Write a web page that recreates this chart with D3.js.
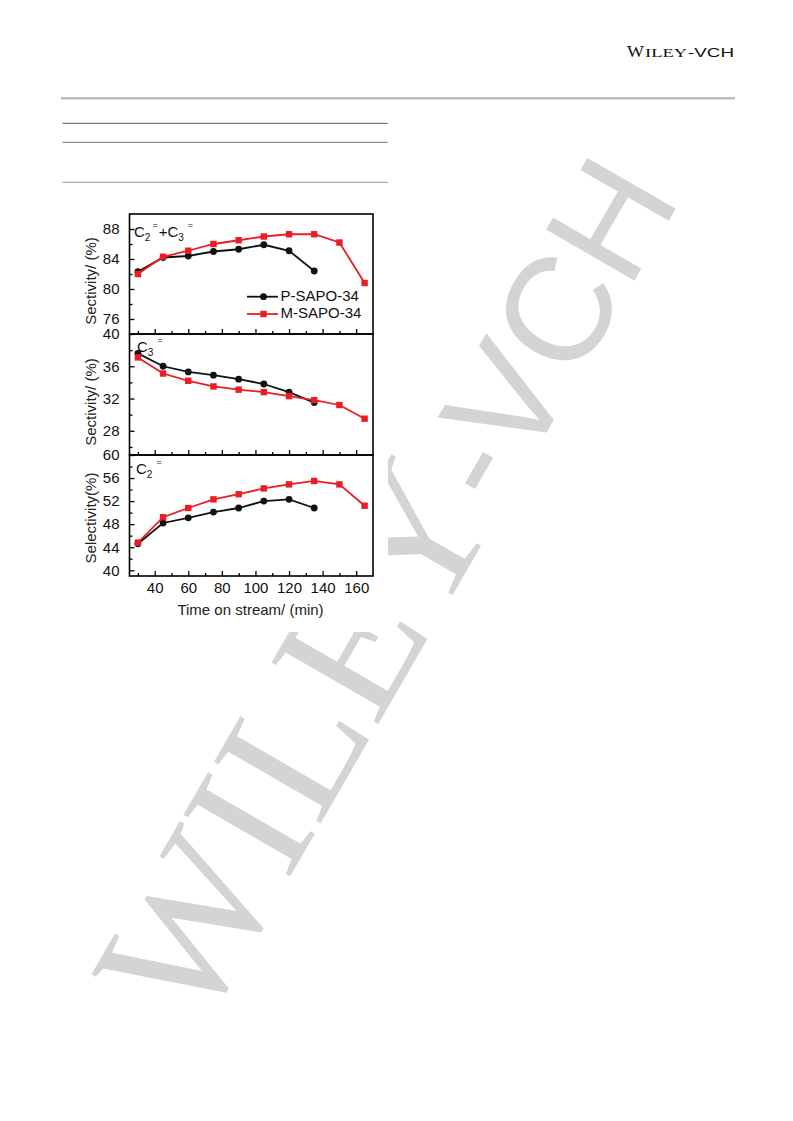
<!DOCTYPE html>
<html><head><meta charset="utf-8">
<script src="https://cdn.jsdelivr.net/npm/d3@7"></script>
<style>body{margin:0;background:#fff}svg{display:block}</style>
</head><body>
<script>
// ---- data ----
const timesM = [30,45,60,75,90,105,120,135,150,165];
const timesP = [30,45,60,75,90,105,120,135];
const olefinP = [82.3,84.2,84.4,85.0,85.3,85.9,85.1,82.4];
const olefinM = [82.0,84.3,85.1,86.0,86.5,87.0,87.3,87.3,86.2,80.8];
const propyleneP = [37.6,36.0,35.3,34.9,34.4,33.8,32.8,31.5];
const propyleneM = [37.1,35.1,34.2,33.5,33.1,32.8,32.3,31.8,31.2,29.5];
const ethyleneP = [44.6,48.2,49.1,50.1,50.8,52.0,52.3,50.8];
const ethyleneM = [44.8,49.2,50.8,52.3,53.2,54.2,54.9,55.5,54.9,51.2];
const xTickValues = [40,60,80,100,120,140,160];
const xMinorValues = [30,50,70,90,110,130,150];
const seriesNames = ["P-SAPO-34","M-SAPO-34"];
const yTitles = ["Sectivity/ (%)","Sectivity/ (%)","Selectivity(%)"];
const xTitle = "Time on stream/ (min)";

const W = 793, H = 1121;
const svg = d3.select("body").append("svg").attr("width", W).attr("height", H);
const SANS = "'Liberation Sans', Arial, sans-serif";
const SERIF = "'Liberation Serif', 'Times New Roman', serif";
const RED = "#ec1c24";

// ---- watermark (behind chart image) ----
const wmAng = -60;
const wm = svg.append("text")
  .attr("transform", `translate(198,1036) rotate(${wmAng})`)
  .attr("fill", "#d4d4d4");
wm.append("tspan").attr("font-family", SERIF).attr("font-size", 188).text("WILEY");
wm.append("tspan").attr("font-family", SANS).attr("font-size", 148).text("-VCH");

// ---- header ----
svg.append("text").attr("x", 627).attr("y", 57).attr("font-family", SERIF).attr("font-size", 17).attr("fill", "#111")
  .attr("textLength", 17).attr("lengthAdjust", "spacingAndGlyphs").text("W");
svg.append("text").attr("x", 645).attr("y", 57).attr("font-family", SERIF).attr("font-size", 13.5).attr("fill", "#111")
  .attr("textLength", 42).attr("lengthAdjust", "spacingAndGlyphs").text("ILEY");
svg.append("text").attr("x", 688).attr("y", 57).attr("font-family", SANS).attr("font-size", 12.5).attr("fill", "#111")
  .attr("textLength", 46).attr("lengthAdjust", "spacingAndGlyphs").text("-VCH");
svg.append("rect").attr("x", 61).attr("y", 97).attr("width", 674).attr("height", 2.5).attr("fill", "#bdbdbd");
[[123.3,"#7a7a7a"],[142.3,"#8c8c8c"],[182.3,"#ababab"]].forEach(([y,c]) => {
  svg.append("line").attr("x1", 62.5).attr("x2", 387.7).attr("y1", y).attr("y2", y).attr("stroke", c).attr("stroke-width", 1.2);
});

// ---- chart image background ----
svg.append("rect").attr("x", 40).attr("y", 188).attr("width", 348).attr("height", 444).attr("fill", "#fff");

// ---- scales ----
const left = 129.5, right = 373;
const x = d3.scaleLinear().domain([25, 170]).range([left, right]);

const panels = [
  {domain:[74,90], top:214, bottom:334, majors:[76,80,84,88], minors:[78,82,86],
   P:olefinP, M:olefinM, title:yTitles[0], titleY:281},
  {domain:[25,40], top:334, bottom:455, majors:[28,32,36,40], minors:[26,30,34,38],
   P:propyleneP, M:propyleneM, title:yTitles[1], titleY:402},
  {domain:[39,60], top:455, bottom:576, majors:[40,44,48,52,56,60], minors:[42,46,50,54,58],
   P:ethyleneP, M:ethyleneM, title:yTitles[2], titleY:518}
];

panels.forEach((p, i) => {
  const y = d3.scaleLinear().domain(p.domain).range([p.bottom, p.top]);
  const g = svg.append("g");

  const yAx = g.append("g").attr("transform", `translate(${left},0)`)
    .call(d3.axisLeft(y).tickValues(p.majors).tickSize(-5).tickPadding(10).tickFormat(d3.format("d")));
  yAx.select(".domain").remove();
  yAx.selectAll("line").attr("stroke", "#000").attr("stroke-width", 1.3);
  yAx.selectAll("text").attr("font-family", SANS).attr("font-size", 15).attr("fill", "#111");
  const yMin = g.append("g").attr("transform", `translate(${left},0)`)
    .call(d3.axisLeft(y).tickValues(p.minors).tickSize(-3).tickFormat(""));
  yMin.select(".domain").remove();
  yMin.selectAll("line").attr("stroke", "#000").attr("stroke-width", 1.3);

  const xAx = g.append("g").attr("transform", `translate(0,${p.bottom})`)
    .call(d3.axisBottom(x).tickValues(xTickValues).tickSize(-5).tickPadding(6).tickFormat(i === 2 ? d3.format("d") : ""));
  xAx.select(".domain").remove();
  xAx.selectAll("line").attr("stroke", "#000").attr("stroke-width", 1.3);
  xAx.selectAll("text").attr("font-family", SANS).attr("font-size", 15).attr("fill", "#111");
  const xMin = g.append("g").attr("transform", `translate(0,${p.bottom})`)
    .call(d3.axisBottom(x).tickValues(xMinorValues).tickSize(-3).tickFormat(""));
  xMin.select(".domain").remove();
  xMin.selectAll("line").attr("stroke", "#000").attr("stroke-width", 1.3);

  g.append("rect").attr("x", left).attr("y", p.top).attr("width", right - left).attr("height", p.bottom - p.top)
    .attr("fill", "none").attr("stroke", "#000").attr("stroke-width", 1.6);

  g.append("text").attr("transform", `translate(92,${p.titleY}) rotate(-90)`)
    .attr("text-anchor", "middle").attr("dominant-baseline", "middle")
    .attr("font-family", SANS).attr("font-size", 15).attr("fill", "#222").text(p.title);

  const line = d3.line().x(d => x(d[0])).y(d => y(d[1]));
  const pData = timesP.map((t, k) => [t, p.P[k]]);
  const mData = timesM.map((t, k) => [t, p.M[k]]);

  g.append("path").datum(pData).attr("d", line).attr("fill", "none").attr("stroke", "#111").attr("stroke-width", 1.8);
  g.selectAll(".pc").data(pData).enter().append("circle")
    .attr("cx", d => x(d[0])).attr("cy", d => y(d[1])).attr("r", 3.4).attr("fill", "#111");
  g.append("path").datum(mData).attr("d", line).attr("fill", "none").attr("stroke", RED).attr("stroke-width", 1.8);
  g.selectAll(".ms").data(mData).enter().append("rect")
    .attr("x", d => x(d[0]) - 3.2).attr("y", d => y(d[1]) - 3.2).attr("width", 6.4).attr("height", 6.4).attr("fill", RED);
});

function chemLabel(xp, yp, parts) {
  const t = svg.append("text").attr("x", xp).attr("y", yp).attr("font-family", SANS).attr("fill", "#111");
  parts.forEach(pt => {
    const s = t.append("tspan").attr("font-size", pt.size).text(pt.t);
    if (pt.dy) s.attr("dy", pt.dy);
    if (pt.dx) s.attr("dx", pt.dx);
  });
}
chemLabel(134, 237, [
  {t:"C", size:15}, {t:"2", size:10, dy:4}, {t:"=", size:9, dy:-13, dx:2},
  {t:"+", size:15, dy:9, dx:1}, {t:"C", size:15}, {t:"3", size:10, dy:4}, {t:"=", size:9, dy:-13, dx:4}
]);
chemLabel(137, 352, [{t:"C", size:15}, {t:"3", size:10, dy:4}, {t:"=", size:9, dy:-13, dx:4}]);
chemLabel(136, 474, [{t:"C", size:15}, {t:"2", size:10, dy:4}, {t:"=", size:9, dy:-13, dx:4}]);

const legY = [296.7, 314];
seriesNames.forEach((n, i) => {
  const c = i === 0 ? "#111" : RED;
  svg.append("line").attr("x1", 247).attr("x2", 278).attr("y1", legY[i]).attr("y2", legY[i]).attr("stroke", c).attr("stroke-width", 1.8);
  if (i === 0) svg.append("circle").attr("cx", 263.5).attr("cy", legY[i]).attr("r", 3.4).attr("fill", c);
  else svg.append("rect").attr("x", 263.5 - 3.2).attr("y", legY[i] - 3.2).attr("width", 6.4).attr("height", 6.4).attr("fill", c);
  svg.append("text").attr("x", 280.5).attr("y", legY[i]).attr("dominant-baseline", "middle")
    .attr("font-family", SANS).attr("font-size", 15).attr("fill", "#111").text(n);
});

svg.append("text").attr("x", 250.5).attr("y", 615).attr("text-anchor", "middle")
  .attr("font-family", SANS).attr("font-size", 15).attr("fill", "#222").text(xTitle);
</script>
</body></html>
